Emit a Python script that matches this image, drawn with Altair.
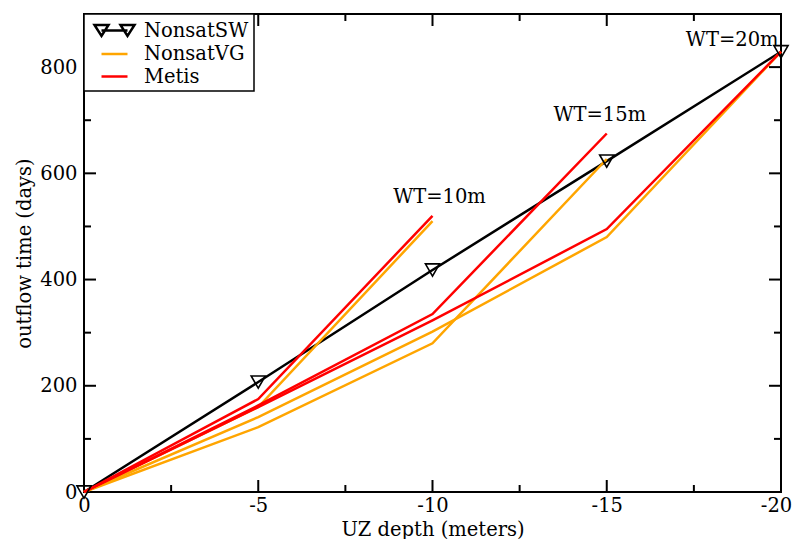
import altair as alt
import pandas as pd

# ---- data ----
depth = [0, -5, -10, -15, -20]
sw_time = [0, 207, 418, 623, 829]

vg10_time = [0, 160, 510]
vg15_time = [0, 122, 280, 627]
vg20_time = [0, 141, 302, 480, 829]

me10_time = [0, 175, 520]
me15_time = [0, 163, 335, 675]
me20_time = [0, 160, 323, 495, 829]

groups = ["NonsatSW", "NonsatVG", "Metis"]
group_colors = ["black", "#FFA500", "#FF0000"]

ann_text = ["WT=10m", "WT=15m", "WT=20m"]
ann_x = [-10.2, -14.8, -18.6]
ann_y = [556, 710, 851]

x_major = [0, -5, -10, -15, -20]
x_minor = [-2.5, -7.5, -12.5, -17.5]
y_major = [0, 200, 400, 600, 800]
y_minor = [100, 300, 500, 700]

W, H = 697, 478
FONT = "DejaVu Serif"
FS = 19.5
MAJ, MIN = 12, 7

rows = []
def add(series, group, ys):
    for i, v in enumerate(ys):
        rows.append({"series": series, "group": group, "x": depth[i], "y": v, "o": i})

add("SW", "NonsatSW", sw_time)
add("VG10", "NonsatVG", vg10_time)
add("VG15", "NonsatVG", vg15_time)
add("VG20", "NonsatVG", vg20_time)
add("ME10", "Metis", me10_time)
add("ME15", "Metis", me15_time)
add("ME20", "Metis", me20_time)
df = pd.DataFrame(rows)

xs = alt.Scale(domain=[-20, 0], reverse=True, nice=False, zero=False)
ys = alt.Scale(domain=[0, 900], nice=False, zero=False)

x_axis = alt.Axis(values=x_major, labelExpr="'' + datum.value", title="UZ depth (meters)",
                  grid=False, ticks=False, tickSize=0, domain=False, labelFlush=False,
                  labelPadding=4, labelFont=FONT, labelFontSize=FS, labelColor="black",
                  labelOffset={"condition": {"test": "datum.value == -20", "value": -5}, "value": 0},
                  titleFont=FONT, titleFontSize=FS, titleFontWeight="normal", titleColor="black",
                  titleY=37, titleBaseline="middle")
y_axis = alt.Axis(values=y_major, labelExpr="'' + datum.value", title="outflow time (days)",
                  grid=False, ticks=False, tickSize=0, domain=False, labelFlush=False,
                  labelPadding=7, labelFont=FONT, labelFontSize=FS, labelColor="black",
                  titleFont=FONT, titleFontSize=FS, titleFontWeight="normal", titleColor="black",
                  titleX=-60, titleY=239, titleAngle=-90, titleBaseline="middle",
                  titleAlign="center")

X = alt.X("x:Q", scale=xs, axis=x_axis)
Y = alt.Y("y:Q", scale=ys, axis=y_axis)

def line_layer(group, color):
    return alt.Chart(df).transform_filter(alt.datum.group == group).mark_line(
        strokeWidth=2.5, color=color).encode(x=X, y=Y, detail="series:N", order="o:Q")

lines = [line_layer("NonsatSW", "black"), line_layer("NonsatVG", "#FFA500"),
         line_layer("Metis", "#FF0000")]

markers = alt.Chart(df).transform_filter(alt.datum.group == "NonsatSW").mark_point(
    shape="triangle-down", filled=False, size=200, strokeWidth=1.6, color="black", opacity=1
).encode(x=X, y=Y)

ann_df = pd.DataFrame({"t": ann_text, "x": ann_x, "y": ann_y})
ann = alt.Chart(ann_df).mark_text(font=FONT, fontSize=FS, color="black", align="center",
                                   baseline="middle").encode(
    x=alt.X("x:Q", scale=xs), y=alt.Y("y:Q", scale=ys), text="t:N")

# ticks (inward, on all four sides)
def xticks(vals, length):
    d = pd.DataFrame({"x": vals})
    bot = alt.Chart(d).mark_rule(color="black", strokeWidth=2).encode(
        x=alt.X("x:Q", scale=xs), y=alt.value(H), y2=alt.value(H - length))
    top = alt.Chart(d).mark_rule(color="black", strokeWidth=2).encode(
        x=alt.X("x:Q", scale=xs), y=alt.value(0), y2=alt.value(length))
    return [bot, top]

def yticks(vals, length):
    d = pd.DataFrame({"y": vals})
    left = alt.Chart(d).mark_rule(color="black", strokeWidth=2).encode(
        y=alt.Y("y:Q", scale=ys), x=alt.value(0), x2=alt.value(length))
    right = alt.Chart(d).mark_rule(color="black", strokeWidth=2).encode(
        y=alt.Y("y:Q", scale=ys), x=alt.value(W), x2=alt.value(W - length))
    return [left, right]

ticks = xticks(x_major, MAJ) + xticks(x_minor, MIN) + yticks(y_major, MAJ) + yticks(y_minor, MIN)

# legend layer (invisible points that carry the legend)
sw_path = "M-1.3,0L1.3,0M-2,-0.55L-0.6,-0.55L-1.3,0.55ZM0.6,-0.55L2,-0.55L1.3,0.55Z"
ln_path = "M-1.3,0L1.3,0"
leg_df = pd.DataFrame({"group": groups, "x": [0, 0, 0], "y": [0, 0, 0]})
legend = alt.Legend(title=None, orient="top-left", offset=0, padding=5, strokeColor="black",
                    fillColor="white", labelFont=FONT, labelFontSize=FS, labelColor="black",
                    symbolSize=400, symbolStrokeWidth=2.5, symbolOpacity=1, rowPadding=1.5,
                    labelOffset=18, symbolOffset=14, cornerRadius=0)
leg = alt.Chart(leg_df).mark_point(filled=False, opacity=0).encode(
    x=alt.X("x:Q", scale=xs), y=alt.Y("y:Q", scale=ys),
    color=alt.Color("group:N", scale=alt.Scale(domain=groups, range=group_colors), legend=legend),
    shape=alt.Shape("group:N", scale=alt.Scale(domain=groups, range=[sw_path, ln_path, ln_path]),
                    legend=legend),
)

chart = alt.layer(*ticks, *lines, markers, ann, leg).properties(
    width=W, height=H,
    autosize=alt.AutoSizeParams(type="none"),
    padding={"left": 76, "top": 6, "right": 11, "bottom": 47},
).configure_view(stroke="black", strokeWidth=2).configure_legend(strokeWidth=1.5)

chart.save("out.html", embed_options={"renderer": "svg", "actions": False})
